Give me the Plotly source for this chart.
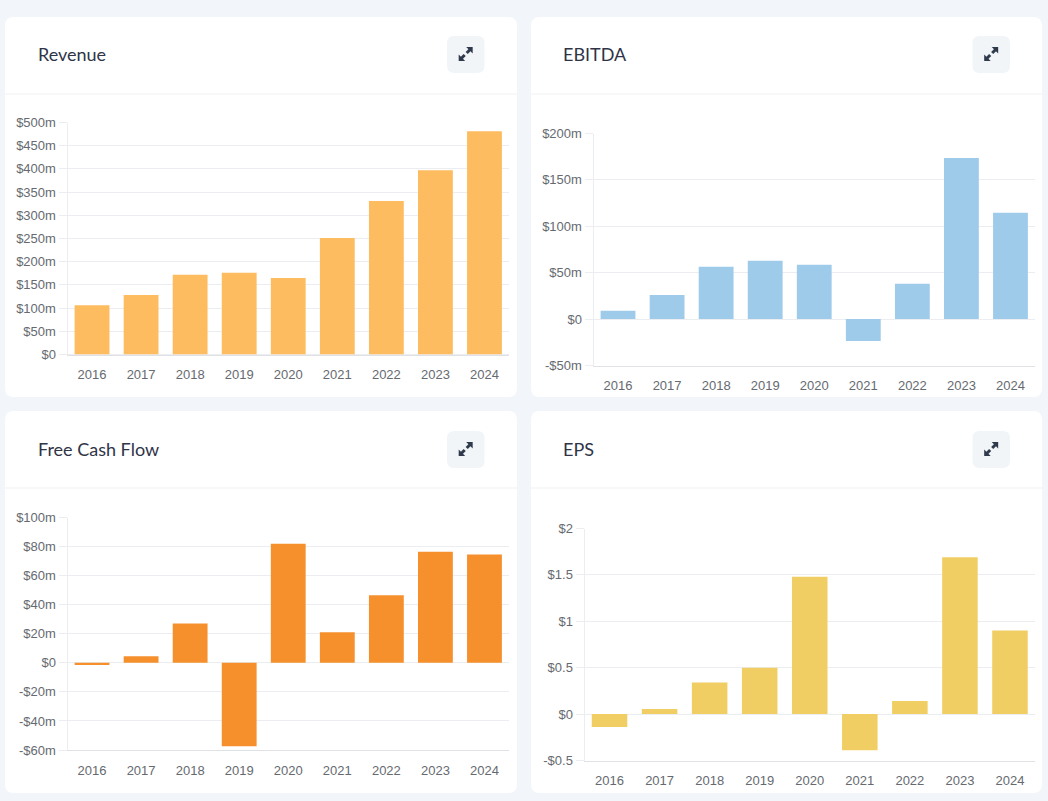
import plotly.graph_objects as go

W, H = 1048, 801
years = ["2016", "2017", "2018", "2019", "2020", "2021", "2022", "2023", "2024"]

revenue = [106, 128, 172, 176, 165, 251, 331, 397, 481]
ebitda = [9, 26, 56.5, 63, 58.5, -23.5, 38, 173.5, 114.5]
fcf = [-1.5, 4.5, 27, -57.5, 82, 21, 46.5, 76.5, 74.5]
eps = [-0.14, 0.055, 0.34, 0.5, 1.48, -0.39, 0.14, 1.69, 0.9]

rev_ticks = [0, 50, 100, 150, 200, 250, 300, 350, 400, 450, 500]
rev_labels = ["$0", "$50m", "$100m", "$150m", "$200m", "$250m", "$300m", "$350m", "$400m", "$450m", "$500m"]
ebitda_ticks = [-50, 0, 50, 100, 150, 200]
ebitda_labels = ["-$50m", "$0", "$50m", "$100m", "$150m", "$200m"]
fcf_ticks = [-60, -40, -20, 0, 20, 40, 60, 80, 100]
fcf_labels = ["-$60m", "-$40m", "-$20m", "$0", "$20m", "$40m", "$60m", "$80m", "$100m"]
eps_ticks = [-0.5, 0, 0.5, 1, 1.5, 2]
eps_labels = ["-$0.5", "$0", "$0.5", "$1", "$1.5", "$2"]

GRID = "#ebedf0"
AXIS = "#dfe1e5"
TICK = "#666a70"
TITLE = "#2f3447"

panels = [
    dict(title="Revenue", vals=revenue, ticks=rev_ticks, labels=rev_labels, color="#fdbc5f",
         card=(5, 17, 517, 397), head=94, plot=(67.5, 509, 122.5, 354.5), rng=(0, 500), tx=36, ty=54, btn=(447, 36)),
    dict(title="EBITDA", vals=ebitda, ticks=ebitda_ticks, labels=ebitda_labels, color="#9fcbeb",
         card=(531, 17, 1042, 397), head=94, plot=(593.5, 1035, 133.5, 365.5), rng=(-50, 200), tx=561, ty=54, btn=(972.5, 36)),
    dict(title="Free Cash Flow", vals=fcf, ticks=fcf_ticks, labels=fcf_labels, color="#f5902c",
         card=(5, 411, 517, 793), head=488, plot=(67.5, 509, 517.5, 750), rng=(-60, 100), tx=36, ty=449, btn=(447, 431)),
    dict(title="EPS", vals=eps, ticks=eps_ticks, labels=eps_labels, color="#f1ce63",
         card=(531, 411, 1042, 793), head=488, plot=(584.5, 1035, 528.5, 760.5), rng=(-0.5, 2), tx=561, ty=449, btn=(972.5, 431)),
]


def px(x):
    return x / W


def py(y):
    return 1 - y / H


def rounded(x0, y0, x1, y1, r):
    return (f"M{px(x0 + r)},{py(y0)} L{px(x1 - r)},{py(y0)} Q{px(x1)},{py(y0)} {px(x1)},{py(y0 + r)} "
            f"L{px(x1)},{py(y1 - r)} Q{px(x1)},{py(y1)} {px(x1 - r)},{py(y1)} "
            f"L{px(x0 + r)},{py(y1)} Q{px(x0)},{py(y1)} {px(x0)},{py(y1 - r)} "
            f"L{px(x0)},{py(y0 + r)} Q{px(x0)},{py(y0)} {px(x0 + r)},{py(y0)} Z")


fig = go.Figure()
shapes = []
annotations = []
layout_axes = {}

for i, p in enumerate(panels, start=1):
    suffix = "" if i == 1 else str(i)
    x0, x1, ytop, ybot = p["plot"]
    fig.add_trace(go.Bar(
        x=years, y=p["vals"], xaxis=f"x{suffix}", yaxis=f"y{suffix}",
        marker=dict(color=p["color"], line=dict(width=0)), showlegend=False,
    ))
    layout_axes[f"xaxis{suffix}"] = dict(
        domain=[px(x0), px(x1)], anchor=f"y{suffix}", type="category", showgrid=False, zeroline=False,
        showline=True, linecolor=AXIS, linewidth=1, ticks="",
        tickfont=dict(family="Liberation Sans", size=13, color=TICK),
        ticklabelstandoff=8, fixedrange=True, automargin=False,
    )
    layout_axes[f"yaxis{suffix}"] = dict(
        domain=[py(ybot), py(ytop)], anchor=f"x{suffix}", range=list(p["rng"]), tickvals=p["ticks"],
        ticktext=p["labels"], showgrid=True, gridcolor=GRID, gridwidth=1, zeroline=True,
        zerolinecolor=GRID, zerolinewidth=1, showline=True, linecolor=GRID, linewidth=1,
        ticks="outside", ticklen=8, tickcolor=GRID, tickwidth=1,
        tickfont=dict(family="Liberation Sans", size=13, color=TICK), fixedrange=True, automargin=False,
    )
    cx0, cy0, cx1, cy1 = p["card"]
    shapes.append(dict(type="path", xref="paper", yref="paper", layer="below",
                       path=rounded(cx0, cy0, cx1, cy1, 9), fillcolor="#ffffff", line=dict(width=0)))
    shapes.append(dict(type="line", xref="paper", yref="paper", layer="below",
                       x0=px(cx0), x1=px(cx1), y0=py(p["head"]), y1=py(p["head"]),
                       line=dict(color="#f0f1f3", width=1)))
    bx, by = p["btn"]
    shapes.append(dict(type="path", xref="paper", yref="paper", layer="below",
                       path=rounded(bx, by, bx + 37.5, by + 37, 7), fillcolor="#f2f5f8", line=dict(width=0)))
    c = (bx + 18.7, by + 18)
    for sgn in (1, -1):
        tip = (c[0] + sgn * 7, c[1] - sgn * 7)
        a = (tip[0] - sgn * 6.5, tip[1])
        b = (tip[0], tip[1] + sgn * 6.5)
        s0 = (c[0] + sgn * 1, c[1] - sgn * 1)
        shapes.append(dict(type="path", xref="paper", yref="paper", layer="above",
                           path=f"M{px(tip[0])},{py(tip[1])} L{px(a[0])},{py(a[1])} L{px(b[0])},{py(b[1])} Z",
                           fillcolor="#2f3a4c", line=dict(width=0)))
        shapes.append(dict(type="line", xref="paper", yref="paper", layer="above",
                           x0=px(tip[0] - sgn * 2), y0=py(tip[1] + sgn * 2), x1=px(s0[0]), y1=py(s0[1]),
                           line=dict(color="#2f3a4c", width=3)))
    annotations.append(dict(text=p["title"], xref="paper", yref="paper", x=px(p["tx"]), y=py(p["ty"]),
                            xanchor="left", yanchor="middle", showarrow=False,
                            font=dict(family="Lato", size=18, color=TITLE)))

fig.update_layout(
    width=W, height=H, margin=dict(l=0, r=0, t=0, b=0), paper_bgcolor="#f2f6fa", plot_bgcolor="rgba(0,0,0,0)",
    bargap=0.29, shapes=shapes, annotations=annotations, showlegend=False, **layout_axes,
)

fig.write_html("out.html", config={"displayModeBar": False},
               post_script="document.body.style.margin='0';document.documentElement.style.overflow='hidden';")
